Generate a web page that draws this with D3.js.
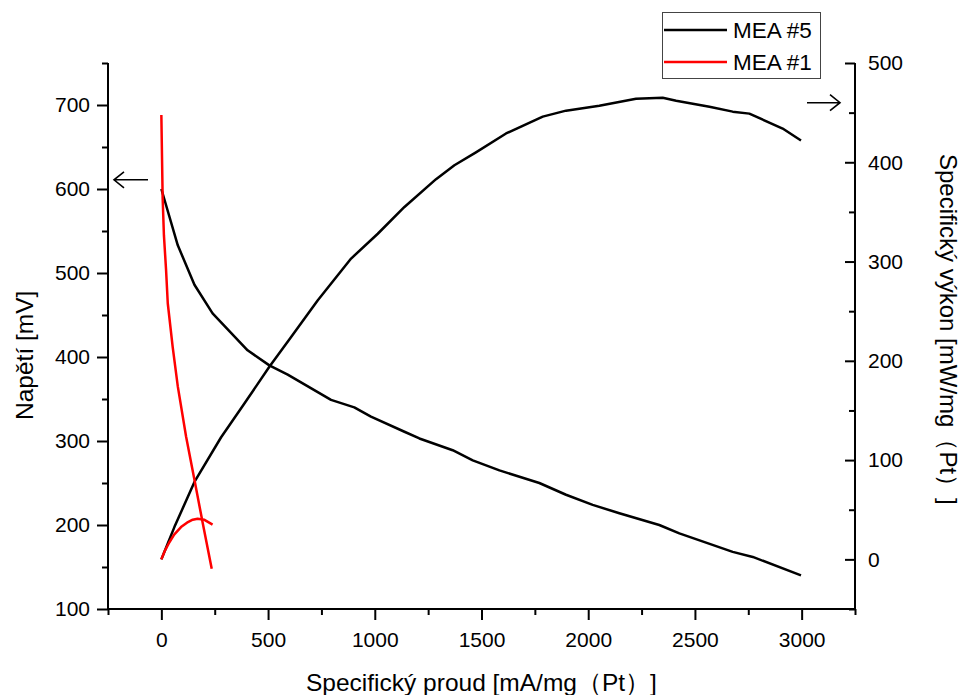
<!DOCTYPE html>
<html>
<head>
<meta charset="utf-8">
<script src="https://cdn.jsdelivr.net/npm/d3@7"></script>
<style>
  body { margin: 0; background: #fff; }
  svg { display: block; font-family: 'Liberation Sans', Arial, sans-serif; }
</style>
</head>
<body>
<div id="chart"></div>
<script>
// MEA #5 - voltage vs specific current
const mea5CurrentV = [0, 77, 155, 240, 404, 506, 592, 795, 904, 982, 1139, 1209, 1365, 1459, 1584, 1771, 1896, 2021, 2146, 2333, 2427, 2677, 2771, 2997];
const mea5Voltage = [600, 533, 486, 452, 408, 390, 379, 349, 340, 329, 311, 303, 289, 277, 265, 250, 236, 224, 214, 200, 190, 168, 162, 140];
// MEA #5 - specific power
const mea5CurrentP = [0, 30, 61, 155, 280, 389, 506, 608, 733, 889, 1014, 1139, 1287, 1373, 1474, 1615, 1787, 1896, 2052, 2224, 2349, 2412, 2568, 2677, 2755, 2911, 2997];
const mea5Power = [0, 16, 32.5, 78, 123, 157, 194, 224, 261, 303, 328, 355, 383, 397, 410, 429, 446, 452, 457, 464, 465, 462, 456, 451, 449, 434, 422];
// MEA #1
const mea1CurrentV = [0, 6, 12, 22, 30, 53, 77, 116, 155, 194, 236];
const mea1Voltage = [688, 590, 545, 504, 464, 412, 365, 305, 254, 202, 148];
const mea1CurrentP = [0, 15, 37, 60, 92, 120, 147, 170, 200, 240];
const mea1Power = [0, 8, 17, 25, 32.5, 37, 40, 41, 40, 35];

const xTicks = [0, 500, 1000, 1500, 2000, 2500, 3000];
const leftTicks = [100, 200, 300, 400, 500, 600, 700];
const rightTicks = [0, 100, 200, 300, 400, 500];

const width = 963;
const height = 695;
const plotLeft = 108, plotRight = 855, plotTop = 63, plotBottom = 609;
const FONT = "'Liberation Sans', Arial, sans-serif";

const svg = d3
  .select('#chart')
  .append('svg')
  .attr('width', width)
  .attr('height', height);

const x = d3.scaleLinear().domain([-250, 3250]).range([plotLeft, plotRight]);
const yL = d3.scaleLinear().domain([100, 750]).range([plotBottom, plotTop]);
const yR = d3.scaleLinear().domain([-50, 500]).range([plotBottom, plotTop]);

const minor = (lo, hi, step, majors) =>
  d3.range(lo, hi + step / 2, step).filter((v) => !majors.includes(v));

function styleAxis(g) {
  g.attr('font-family', FONT).attr('font-size', 21);
  g.select('.domain').remove();
  g.selectAll('.tick line')
    .attr('stroke', '#000')
    .attr('stroke-width', 2)
    .style('stroke', '#000')
    .style('stroke-width', '2px');
  g.selectAll('text').attr('fill', '#000');
}

// bottom axis
svg.append('g')
  .attr('transform', `translate(0,${plotBottom})`)
  .call(d3.axisBottom(x).tickValues(xTicks).tickFormat(d3.format('d')).tickSize(11).tickPadding(12))
  .call(styleAxis);
svg.append('g')
  .attr('transform', `translate(0,${plotBottom})`)
  .call(d3.axisBottom(x).tickValues(minor(-250, 3250, 250, xTicks)).tickSize(6).tickFormat(''))
  .call(styleAxis);

// left axis
svg.append('g')
  .attr('transform', `translate(${plotLeft},0)`)
  .call(d3.axisLeft(yL).tickValues(leftTicks).tickSize(11).tickPadding(7))
  .call(styleAxis);
svg.append('g')
  .attr('transform', `translate(${plotLeft},0)`)
  .call(d3.axisLeft(yL).tickValues(minor(150, 750, 50, leftTicks)).tickSize(6).tickFormat(''))
  .call(styleAxis);

// right axis (ticks inward)
svg.append('g')
  .attr('transform', `translate(${plotRight},0)`)
  .call(d3.axisRight(yR).tickValues(rightTicks).tickSize(-10).tickPadding(13))
  .call(styleAxis);
svg.append('g')
  .attr('transform', `translate(${plotRight},0)`)
  .call(d3.axisRight(yR).tickValues(minor(-50, 450, 50, rightTicks)).tickSize(-6).tickFormat(''))
  .call(styleAxis);

// axis lines
svg.append('path')
  .attr('d', `M${plotLeft},${plotTop}V${plotBottom}H${plotRight}V${plotTop}`)
  .attr('stroke', '#000').attr('stroke-width', 2).attr('fill', 'none');

// curves
const lineV = d3.line().x((d) => x(d[0])).y((d) => yL(d[1]));
const lineP = d3.line().x((d) => x(d[0])).y((d) => yR(d[1]));
const zip = (a, b) => a.map((v, i) => [v, b[i]]);

const curves = svg.append('g').attr('fill', 'none').attr('stroke-width', 2.5)
  .attr('stroke-linejoin', 'round');
curves.append('path').attr('d', lineV(zip(mea5CurrentV, mea5Voltage))).attr('stroke', '#000');
curves.append('path').attr('d', lineP(zip(mea5CurrentP, mea5Power))).attr('stroke', '#000');
curves.append('path').attr('d', lineV(zip(mea1CurrentV, mea1Voltage))).attr('stroke', '#ff0000');
curves.append('path').attr('d', lineP(zip(mea1CurrentP, mea1Power))).attr('stroke', '#ff0000');

// arrows
const arrows = svg.append('g').attr('stroke', '#000').attr('stroke-width', 1.6).attr('fill', 'none');
const ly = yL(611);
arrows.append('path').attr('d', `M114,${ly}H148M124,${ly - 8}L114,${ly}L124,${ly + 8}`);
const ry = yR(460);
arrows.append('path').attr('d', `M807,${ry}H840M830,${ry - 8}L840,${ry}L830,${ry + 8}`);

// axis titles
svg.append('text')
  .attr('x', 306).attr('y', 691)
  .style('font-size', '24.5px')
  .text('Specifický proud [mA/mg（Pt）]');
svg.append('text')
  .attr('transform', 'translate(33,420) rotate(-90)')
  .style('font-size', '24.5px')
  .text('Napětí [mV]');
svg.append('text')
  .attr('transform', 'translate(940,154) rotate(90)')
  .style('font-size', '24px')
  .text('Specifický výkon [mW/mg（Pt）]');

// legend
const legend = svg.append('g');
legend.append('rect')
  .attr('x', 662.5).attr('y', 12.5).attr('width', 158).attr('height', 66)
  .attr('fill', '#fff').attr('stroke', '#444').attr('stroke-width', 1);
const legendItems = [
  { name: 'MEA #5', color: '#000' },
  { name: 'MEA #1', color: '#ff0000' },
];
legendItems.forEach((d, i) => {
  const yy = 30 + i * 32;
  legend.append('line')
    .attr('x1', 664).attr('x2', 727).attr('y1', yy).attr('y2', yy)
    .attr('stroke', d.color).attr('stroke-width', 2.5);
  legend.append('text')
    .attr('x', 733).attr('y', yy + 8)
    .style('font-size', '22.5px')
    .text(d.name);
});
</script>
</body>
</html>
